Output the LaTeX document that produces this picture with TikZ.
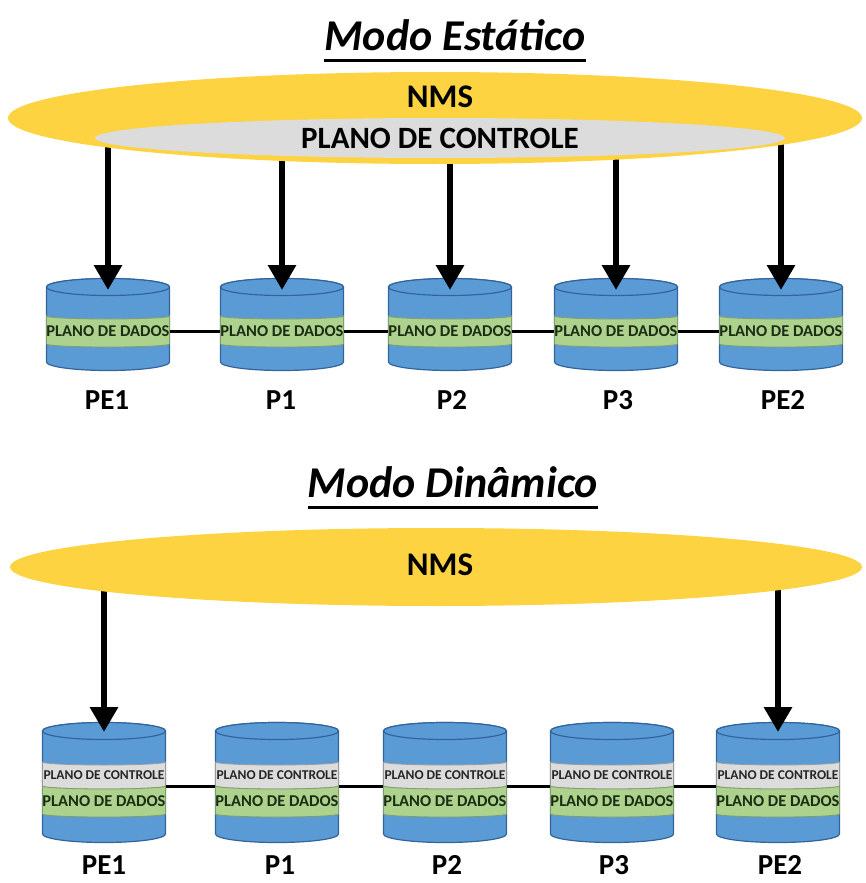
\documentclass[tikz,border=0pt]{standalone}
\usepackage{fontspec}
\setmainfont{Carlito}
\usetikzlibrary{arrows.meta,shapes.geometric}

\definecolor{nmsyellow}{RGB}{253,211,66}
\definecolor{ctrlgrey}{RGB}{220,220,220}
\definecolor{cylblue}{RGB}{91,155,213}
\definecolor{cyledge}{RGB}{50,100,155}
\definecolor{datagreen}{RGB}{172,210,142}
\definecolor{dgtext}{RGB}{28,45,20}

% half-width of a cylinder
\def\crx{61.5}

% cylinder body and top face: centre x, top-ellipse y, bottom-ellipse y
\newcommand{\cylbody}[3]{%
  \filldraw[cylface] (#1-\crx,-#2) -- (#1-\crx,-#3)
    arc[start angle=180,end angle=360,x radius=\crx,y radius=8.5]
    -- (#1+\crx,-#2)
    arc[start angle=0,end angle=180,x radius=\crx,y radius=8.5] -- cycle;
  \filldraw[cylface] (#1,-#2) ellipse[x radius=\crx,y radius=8.5];
}
% curved band round a cylinder: centre x, upper y, lower y, style
\newcommand{\cylband}[4]{%
  \filldraw[#4] (#1-\crx,-#2)
    arc[start angle=180,end angle=360,x radius=\crx,y radius=3]
    -- (#1+\crx,-#3)
    arc[start angle=0,end angle=-180,x radius=\crx,y radius=3] -- cycle;
}

\begin{document}
\begin{tikzpicture}[x=1pt,y=1pt,
  title/.style={font=\fontsize{44}{44}\selectfont\bfseries\itshape, inner sep=0, anchor=base},
  uline/.style={line width=3pt},
  nmstext/.style={font=\fontsize{33}{33}\selectfont\bfseries, inner sep=0},
  ctrltext/.style={font=\fontsize{31}{31}\selectfont\bfseries, inner sep=0},
  dtext/.style={font=\fontsize{16.5}{16.5}\selectfont\bfseries, inner sep=0, minimum width=123pt, text=dgtext},
  ctext/.style={font=\fontsize{13.5}{13.5}\selectfont\bfseries, inner sep=0, minimum width=123pt, text=black!85},
  anchorbox/.style={inner sep=0, minimum width=123pt, minimum height=1pt},
  lbl/.style={font=\fontsize{29}{29}\selectfont\bfseries, inner sep=0},
  link/.style={line width=3pt},
  down/.style={line width=6.5pt, -{Triangle[width=27pt,length=25pt]}},
  cloud/.style={ellipse, fill=nmsyellow, inner sep=0},
  inner/.style={ellipse, fill=ctrlgrey, inner sep=0},
  cylface/.style={fill=cylblue, draw=cyledge, line width=1.2pt},
  greenband/.style={fill=datagreen, draw=datagreen!75!black, line width=0.8pt},
  greyband/.style={fill=ctrlgrey, draw=ctrlgrey!70!black, line width=0.8pt},
]
\useasboundingbox (0,0) rectangle (865,-883);

% ---------------- static mode ----------------
\node[title] (t1) at (455,-51) {Modo Estático};
\draw[uline] ([yshift=-10pt]t1.base west) -- ([yshift=-10pt]t1.base east);

\coordinate (nms1c) at (435,-118);

\foreach \cx/\nm in {108/pe1, 282/p1, 450/p2, 616/p3, 781/pe2}{
  \cylbody{\cx}{287}{362}
  \cylband{\cx}{316}{344}{greenband}
  \node[dtext] (s-\nm) at (\cx,-331) {PLANO DE DADOS};
  \coordinate (s-\nm-top) at (\cx,-290);
}
\foreach \a/\b in {pe1/p1, p1/p2, p2/p3, p3/pe2}
  \draw[link] (s-\a.east) -- (s-\b.west);

\foreach \nm in {pe1, p1, p2, p3, pe2}
  \draw[down] (s-\nm-top |- nms1c) -- (s-\nm-top);

\node[cloud, minimum width=854pt, minimum height=92pt] (nms1) at (nms1c) {};
\node[inner, minimum width=690pt, minimum height=40pt] (ctrl1) at (440,-138) {};
\node[nmstext] at (440,-97) {NMS};
\node[ctrltext] at (ctrl1) {PLANO DE CONTROLE};

\node[lbl] at (107,-400) {PE1};
\node[lbl] at (281,-400) {P1};
\node[lbl] at (452,-400) {P2};
\node[lbl] at (618,-400) {P3};
\node[lbl] at (783,-400) {PE2};

% ---------------- dynamic mode ----------------
\node[title] (t2) at (453,-497) {Modo Dinâmico};
\draw[uline] ([yshift=-10pt]t2.base west) -- ([yshift=-10pt]t2.base east);

\coordinate (nms2c) at (436,-567);

\foreach \cx/\nm in {104/pe1, 277/p1, 445/p2, 612/p3, 778/pe2}{
  \cylbody{\cx}{731}{834}
  \cylband{\cx}{762}{786}{greyband}
  \cylband{\cx}{786}{814}{greenband}
  \node[ctext] at (\cx,-775) {PLANO DE CONTROLE};
  \node[dtext] at (\cx,-801) {PLANO DE DADOS};
  \node[anchorbox] (d-\nm) at (\cx,-786) {};
  \coordinate (d-\nm-top) at (\cx,-732);
}
\foreach \a/\b in {pe1/p1, p1/p2, p2/p3, p3/pe2}
  \draw[link] (d-\a.east) -- (d-\b.west);

\foreach \nm in {pe1, pe2}
  \draw[down] (d-\nm-top |- nms2c) -- (d-\nm-top);

\node[cloud, minimum width=852pt, minimum height=78pt] (nms2) at (nms2c) {};
\node[nmstext] at (440,-565) {NMS};

\node[lbl] at (104,-865) {PE1};
\node[lbl] at (280,-865) {P1};
\node[lbl] at (447,-865) {P2};
\node[lbl] at (614,-865) {P3};
\node[lbl] at (780,-865) {PE2};
\end{tikzpicture}
\end{document}
